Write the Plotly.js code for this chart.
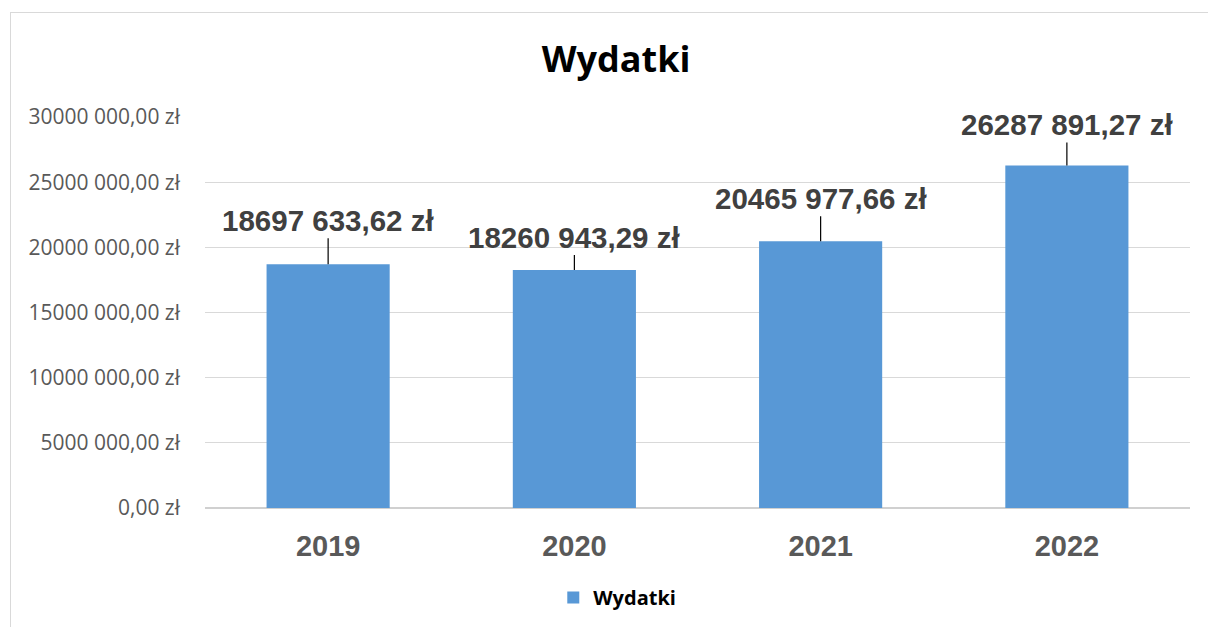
<!DOCTYPE html>
<html>
<head>
<meta charset="utf-8">
<script src="https://cdn.plot.ly/plotly-3.0.1.min.js"></script>
<style>
html,body{margin:0;padding:0;background:#fff;overflow:hidden;}
#chart{width:1208px;height:627px;position:relative;}
#frame{position:absolute;left:10px;top:12px;width:1220px;height:660px;border:1.5px solid #d9d9d9;pointer-events:none;box-sizing:border-box;}
</style>
</head>
<body>
<div id="chart"></div>
<div id="frame"></div>
<script>
const categories = ['2019', '2020', '2021', '2022'];
const values = [18697633.62, 18260943.29, 20465977.66, 26287891.27];
const valueLabels = ['18697 633,62 zł', '18260 943,29 zł', '20465 977,66 zł', '26287 891,27 zł'];
const tickValues = [0, 5000000, 10000000, 15000000, 20000000, 25000000, 30000000];
const tickLabels = ['0,00 zł', '5000 000,00 zł', '10000 000,00 zł', '15000 000,00 zł', '20000 000,00 zł', '25000 000,00 zł', '30000 000,00 zł'];
const labelOffsets = [-44, -33, -43, -41];

const trace = {
  type: 'bar',
  x: categories,
  y: values,
  name: 'Wydatki',
  marker: {color: '#5898d6', line: {width: 0}},
  hoverinfo: 'none'
};

const annotations = categories.map((c, i) => ({
  x: i, y: values[i], xref: 'x', yref: 'y',
  text: '<b>' + valueLabels[i] + '</b>',
  showarrow: true, arrowhead: 0, arrowwidth: 1.2, arrowcolor: '#000',
  ax: 0, ay: labelOffsets[i], standoff: 0,
  font: {family: 'Liberation Sans, Arial, sans-serif', size: 29.5, color: '#404040'}
}));

const layout = {
  width: 1208, height: 627,
  margin: {l: 205, r: 18, t: 117, b: 119},
  paper_bgcolor: '#fff', plot_bgcolor: '#fff',
  title: {text: '<b>Wydatki</b>', x: 0.51, xanchor: 'center', y: 0.905, yanchor: 'middle',
    font: {family: 'Open Sans, Noto Sans, sans-serif', size: 36, color: '#000'}},
  bargap: 0.5,
  showlegend: true,
  legend: {orientation: 'h', x: 0.511, xanchor: 'center', xref: 'container', y: 0.047, yref: 'container', yanchor: 'middle',
    font: {family: 'Open Sans, Noto Sans, sans-serif', size: 20, color: '#000', weight: 'bold'},
    itemwidth: 30},
  xaxis: {
    type: 'category', range: [-0.5, 3.5], autorange: false,
    showgrid: false, zeroline: false, showline: false, ticks: '',
    tickfont: {family: 'Liberation Sans, Arial, sans-serif', size: 29, color: '#595959', weight: 'bold'},
    ticklabelstandoff: 18
  },
  yaxis: {
    range: [0, 30000000], autorange: false, tickvals: tickValues, ticktext: tickLabels,
    showgrid: true, gridcolor: '#d9d9d9', gridwidth: 1.2,
    zeroline: true, zerolinecolor: '#d0d0d0', zerolinewidth: 2,
    showline: false, ticks: '',
    tickfont: {family: 'Open Sans, Noto Sans, sans-serif', size: 21, color: '#595959'},
    ticklabelstandoff: 24
  },
  annotations: annotations
};

Plotly.newPlot('chart', [trace], layout, {displayModeBar: false, staticPlot: true});
</script>
</body>
</html>
